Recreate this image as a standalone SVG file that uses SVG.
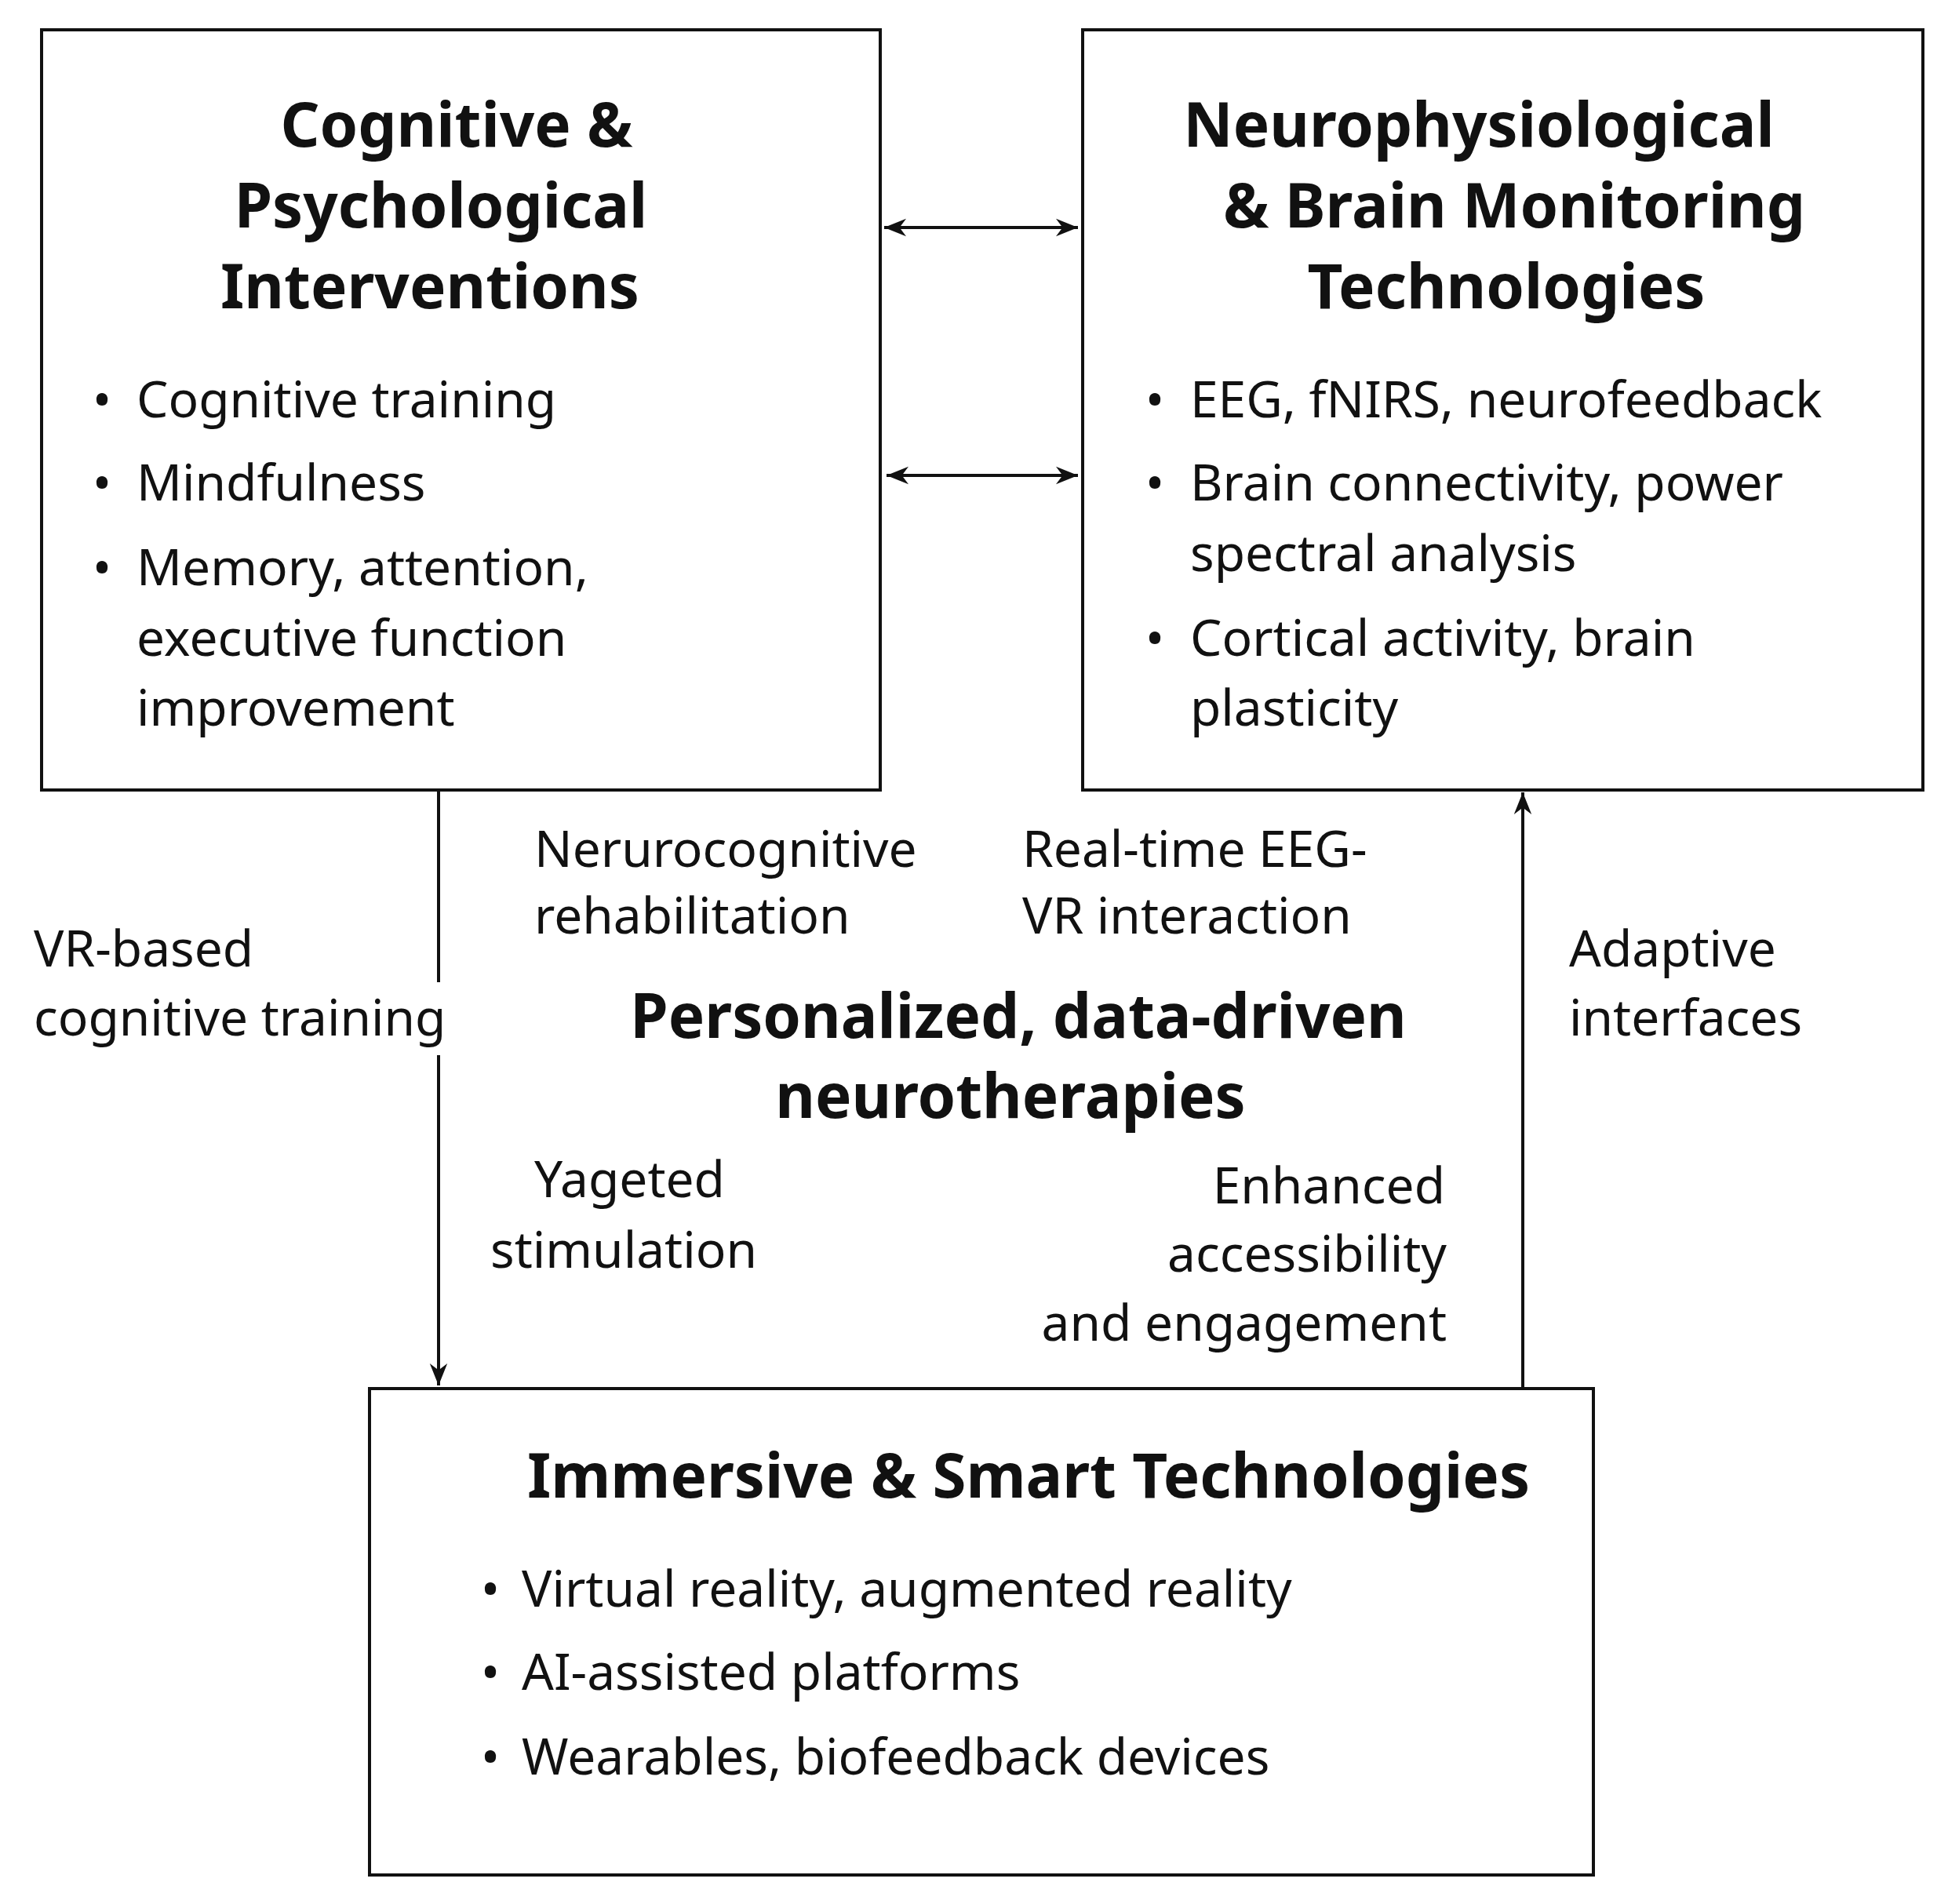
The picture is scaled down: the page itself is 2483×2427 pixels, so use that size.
<svg xmlns="http://www.w3.org/2000/svg" width="2483" height="2427" viewBox="0 0 2483 2427">
<style>
text{font-family:"Noto Sans","Liberation Sans",sans-serif;fill:#111}
.t{font-size:78px;font-weight:bold;text-anchor:middle}
.b{font-size:64px}
.l{font-size:64px}
.box{fill:#fff;stroke:#111;stroke-width:4}
.c{stroke:#111;stroke-width:4;fill:none}
</style>
<defs>
<marker id="a" viewBox="0 0 10 10" refX="9" refY="5" markerWidth="7" markerHeight="7" markerUnits="userSpaceOnUse" orient="auto-start-reverse"><path d="M0,0L10,5L0,10z" fill="#111"/></marker>
<marker id="h" viewBox="0 0 10 10" refX="10" refY="5" markerWidth="28" markerHeight="28" markerUnits="userSpaceOnUse" orient="auto-start-reverse"><path d="M0,1L10,5L0,9L3,5z" fill="#111"/></marker>
</defs>
<rect width="2483" height="2427" fill="#fff"/>
<g id="connectors">
<line class="c" x1="1127" y1="290" x2="1374" y2="290" marker-start="url(#h)" marker-end="url(#h)"/>
<line class="c" x1="1130" y1="606" x2="1374" y2="606" marker-start="url(#h)" marker-end="url(#h)"/>
<line class="c" x1="559" y1="1007" x2="559" y2="1252"/>
<line class="c" x1="559" y1="1345" x2="559" y2="1766" marker-end="url(#h)"/>
<line class="c" x1="1941" y1="1770" x2="1941" y2="1010" marker-end="url(#h)"/>
</g>
<g id="cognitive">
<rect class="box" x="53" y="38" width="1069" height="969"/>
<text class="t" x="582" y="187">Cognitive &amp;</text>
<text class="t" x="562" y="290">Psychological</text>
<text class="t" x="548" y="393">Interventions</text>
<text class="b" x="118" y="532">•</text><text class="b" x="174" y="532">Cognitive training</text>
<text class="b" x="118" y="638">•</text><text class="b" x="174" y="638">Mindfulness</text>
<text class="b" x="118" y="746">•</text><text class="b" x="174" y="746">Memory, attention,</text>
<text class="b" x="174" y="836">executive function</text>
<text class="b" x="174" y="925">improvement</text>
</g>
<g id="neuro">
<rect class="box" x="1380" y="38" width="1071" height="969"/>
<text class="t" x="1885" y="187">Neurophysiological</text>
<text class="t" x="1930" y="290">&amp; Brain Monitoring</text>
<text class="t" x="1920" y="393">Technologies</text>
<text class="b" x="1460" y="532">•</text><text class="b" x="1517" y="532">EEG, fNIRS, neurofeedback</text>
<text class="b" x="1460" y="638">•</text><text class="b" x="1517" y="638">Brain connectivity, power</text>
<text class="b" x="1517" y="728">spectral analysis</text>
<text class="b" x="1460" y="836">•</text><text class="b" x="1517" y="836">Cortical activity, brain</text>
<text class="b" x="1517" y="925">plasticity</text>
</g>
<g id="immersive">
<rect class="box" x="471" y="1770" width="1560" height="620"/>
<text class="t" x="1311" y="1909">Immersive &amp; Smart Technologies</text>
<text class="b" x="613" y="2048">•</text><text class="b" x="665" y="2048">Virtual reality, augmented reality</text>
<text class="b" x="613" y="2154">•</text><text class="b" x="665" y="2154">AI-assisted platforms</text>
<text class="b" x="613" y="2262">•</text><text class="b" x="665" y="2262">Wearables, biofeedback devices</text>
</g>
<g id="labels">
<text class="l" x="681" y="1105">Nerurocognitive</text>
<text class="l" x="681" y="1190">rehabilitation</text>
<text class="l" x="1303" y="1105">Real-time EEG-</text>
<text class="l" x="1303" y="1190">VR interaction</text>
<text class="l" x="43" y="1232">VR-based</text>
<text class="l" x="43" y="1320">cognitive training</text>
<text class="l" x="2000" y="1232">Adaptive</text>
<text class="l" x="2000" y="1320">interfaces</text>
<text class="t" x="1298" y="1323">Personalized, data-driven</text>
<text class="t" x="1288" y="1425">neurotherapies</text>
<text class="l" x="681" y="1526">Yageted</text>
<text class="l" x="625" y="1616">stimulation</text>
<text class="l" x="1842" y="1534" text-anchor="end">Enhanced</text>
<text class="l" x="1844" y="1621" text-anchor="end">accessibility</text>
<text class="l" x="1844" y="1709" text-anchor="end">and engagement</text>
</g>
</svg>
